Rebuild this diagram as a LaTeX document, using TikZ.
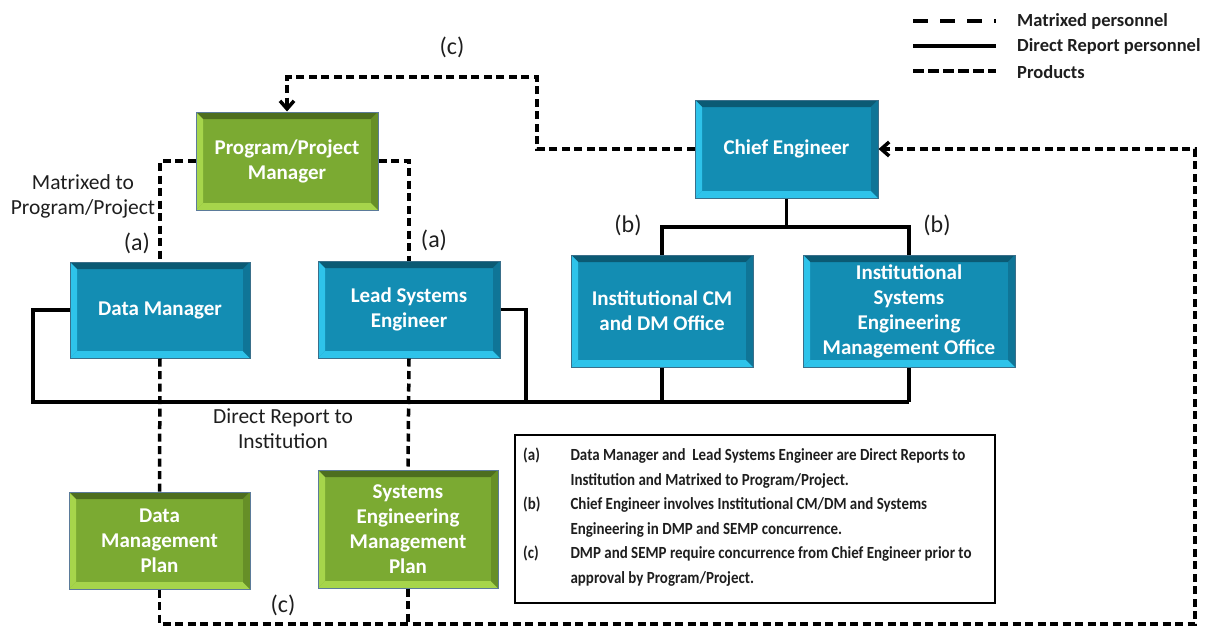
\documentclass[tikz,border=0pt]{standalone}
\usepackage{fontspec}
\setmainfont{Carlito}
\newfontfamily\notefont[FakeStretch=0.88]{Carlito}
\usetikzlibrary{arrows.meta,calc}

\definecolor{bluemid}{HTML}{138DB3}
\definecolor{bluetop}{HTML}{0B5A74}
\definecolor{bluelite}{HTML}{2EC3EA}
\definecolor{blueright}{HTML}{0F7597}
\definecolor{blueedge}{HTML}{3A6F8A}
\definecolor{grnmid}{HTML}{7BAA32}
\definecolor{grntop}{HTML}{4D6E1F}
\definecolor{grnlite}{HTML}{A6D54B}
\definecolor{grnright}{HTML}{668F27}
\definecolor{grnedge}{HTML}{5B7B9A}
\definecolor{ink}{HTML}{1E1E1E}

\tikzset{
  % four-sided bevel: top, left, bottom, right colours
  bevel/.style n args={4}{path picture={
    \def\bw{7pt}
    \coordinate (pnw) at (path picture bounding box.north west);
    \coordinate (pne) at (path picture bounding box.north east);
    \coordinate (psw) at (path picture bounding box.south west);
    \coordinate (pse) at (path picture bounding box.south east);
    \fill[#1] (pnw) -- (pne) -- ([shift={(-\bw,-\bw)}]pne) -- ([shift={(\bw,-\bw)}]pnw) -- cycle;
    \fill[#2] (pnw) -- ([shift={(\bw,-\bw)}]pnw) -- ([shift={(\bw,\bw)}]psw) -- (psw) -- cycle;
    \fill[#3] (psw) -- ([shift={(\bw,\bw)}]psw) -- ([shift={(-\bw,\bw)}]pse) -- (pse) -- cycle;
    \fill[#4] (pse) -- ([shift={(-\bw,\bw)}]pse) -- ([shift={(-\bw,-\bw)}]pne) -- (pne) -- cycle;
  }},
  boxbase/.style={rectangle, inner sep=0pt, align=center, text=white,
    font=\bfseries\fontsize{21}{25}\selectfont, line width=1pt},
  bluebox/.style={boxbase, draw=blueedge, fill=bluemid,
    bevel={bluetop}{bluelite}{bluelite}{blueright}},
  greenbox/.style={boxbase, draw=grnedge, fill=grnmid,
    bevel={grntop}{grnlite}{grnlite}{grnright}},
  tag/.style={text=ink, font=\fontsize{24}{28}\selectfont, inner sep=0pt},
  side/.style={text=ink, font=\fontsize{21.5}{25}\selectfont, align=center, inner sep=0pt},
  legtext/.style={text=ink, font=\bfseries\fontsize{18.5}{20}\selectfont, anchor=west, inner sep=0pt},
  direct/.style={line width=3.5pt, black},
  matrixed/.style={line width=3.5pt, black, dash pattern=on 8pt off 4.5pt},
  product/.style={line width=3.5pt, black, dash pattern=on 8pt off 4.5pt},
  barb/.style={-{Straight Barb[length=8pt,width=14pt]}},
}

\begin{document}
\begin{tikzpicture}[x=1pt,y=-1pt]
\useasboundingbox (0,0) rectangle (1206,627);

% organisation boxes
\node[greenbox, minimum width=182pt, minimum height=98pt] (pm) at (287,161) {Program/Project\\Manager};
\node[bluebox, minimum width=183pt, minimum height=98pt] (ce) at (786.5,149) {Chief Engineer};
\node[bluebox, minimum width=180pt, minimum height=96pt] (dm) at (160,310) {Data Manager};
\node[bluebox, minimum width=182pt, minimum height=97pt] (lse) at (409,309.5) {Lead Systems\\Engineer};
\node[bluebox, minimum width=182pt, minimum height=112pt] (icm) at (662,311) {Institutional CM\\and DM Office};
\node[bluebox, minimum width=212pt, minimum height=112pt] (isemo) at (909,311) {Institutional\\Systems\\Engineering\\Management Office};
\node[greenbox, minimum width=181pt, minimum height=97pt] (dmp) at (159.5,540.5) {Data\\Management\\Plan};
\node[greenbox, minimum width=180pt, minimum height=118pt] (semp) at (408,529) {Systems\\Engineering\\Management\\Plan};

% explanatory notes
\node[draw=black, line width=2.5pt, minimum width=480pt, minimum height=168pt, inner sep=0pt] (notes) at (755,519) {};
\node[anchor=north west, inner sep=0pt, text=ink, font=\notefont\bfseries\fontsize{17}{24.6}\selectfont] (notetext) at (523,443)
{\begin{tabular}{@{}l@{\hspace{30pt}}l@{}}
(a) & Data Manager and\ \ Lead Systems Engineer are Direct Reports to\\
    & Institution and Matrixed to Program/Project.\\
(b) & Chief Engineer involves Institutional CM/DM and Systems\\
    & Engineering in DMP and SEMP concurrence.\\
(c) & DMP and SEMP require concurrence from Chief Engineer prior to\\
    & approval by Program/Project.
\end{tabular}};

% junction and corner points
\coordinate (busL) at (33,402);
\coordinate (busLSE) at (526,402);
\coordinate (cej) at (786.5,227);
\coordinate (ctop) at (537,77);
\coordinate (cbot) at (1195,624);

% direct report lines
\draw[direct] (dm.west) -| (busL) -- (isemo.south |- busL);
\draw[direct] (lse.east) -| (busLSE);
\draw[direct] (icm.south) -- (icm.south |- busL);
\draw[direct] (isemo.south) -- (isemo.south |- busL);
\draw[direct] (ce.south) -- (cej);
\draw[direct] (icm.north) |- (cej) -| (isemo.north);

% matrixed lines
\draw[matrixed] (pm.west) -| (dm.north);
\draw[matrixed] (pm.east) -| (lse.north);
\draw[matrixed] (dm.south) -- (dmp.north);
\draw[matrixed] (lse.south) -- (semp.north);

% products flow
\draw[product, barb] (dmp.south) |- (cbot) |- (ce.east);
\draw[product] (semp.south) -- (semp.south |- cbot);
\draw[product, barb] (ce.west) -| (ctop) -| (pm.north);

% labels
\node[tag] (lc1) at (452,47) {(c)};
\node[tag] (la1) at (137,243) {(a)};
\node[tag] (la2) at (434,240) {(a)};
\node[tag] (lb1) at (628,225) {(b)};
\node[tag] (lb2) at (937,225) {(b)};
\node[tag] (lc2) at (283,605) {(c)};
\node[side] (mtp) at (83,196) {Matrixed to\\Program/Project};
\node[side] (dri) at (283,429) {Direct Report to\\Institution};

% legend
\coordinate (l1a) at (913,21); \coordinate (l1b) at (996,21);
\coordinate (l2a) at (913,46); \coordinate (l2b) at (996,46);
\coordinate (l3a) at (913,71); \coordinate (l3b) at (996,71);
\draw[line width=3.5pt, dash pattern=on 15pt off 12pt] (l1a) -- (l1b);
\draw[line width=3.5pt] (l2a) -- (l2b);
\draw[line width=3.5pt, dash pattern=on 11pt off 4pt] (l3a) -- (l3b);
\node[legtext] (lg1) at (1017,21) {Matrixed personnel};
\node[legtext] (lg2) at (1017,46) {Direct Report personnel};
\node[legtext] (lg3) at (1017,72) {Products};
\end{tikzpicture}
\end{document}
